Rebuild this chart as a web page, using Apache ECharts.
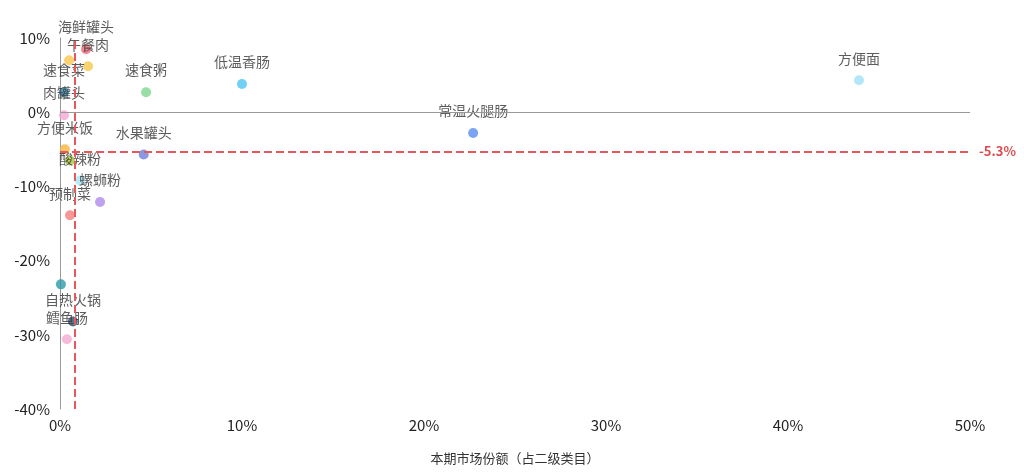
<!DOCTYPE html>
<html>
<head>
<meta charset="utf-8">
<script src="https://cdn.jsdelivr.net/npm/echarts@6/dist/echarts.min.js"></script>
<style>
html,body{margin:0;padding:0;background:#fff;}
#c{width:1024px;height:474px;}
</style>
</head>
<body>
<div id="c"></div>
<script>
const categories = ['海鲜罐头','午餐肉','其他A','速食菜','速食粥','低温香肠','方便面','肉罐头','常温火腿肠','方便米饭','水果罐头','其他B','酸辣粉','螺蛳粉','预制菜','其他C','自热火锅','鳕鱼肠'];
const marketShare = [1.43,1.54,0.5,0.22,4.73,10.0,43.9,0.22,22.7,0.27,4.6,0.55,1.1,2.2,0.55,0.05,0.71,0.38];
const growth = [8.5,6.2,7.0,2.7,2.7,3.8,4.3,-0.4,-2.8,-5.0,-5.7,-6.5,-9.2,-12.1,-13.9,-23.2,-28.2,-30.6];
const showLabel = [true,true,false,true,true,true,true,true,true,true,true,false,true,true,true,false,true,true];
const avgShare = 0.8;
const avgGrowth = -5.3;
const xTicks = [0,10,20,30,40,50];
const yTicks = [-40,-30,-20,-10,0,10];

const palette = ['#ee6a78','#f7c84a','#f9c74f','#2f7fa6','#80d68e','#4dc4f0','#a0e1f6','#f5a7cf','#5a8ff0','#f6b53a','#6b80d9','#a7c83f','#a9e6f6','#b08aea','#f47e7c','#2a9aa6','#284d6e','#f5aad0'];

const data = categories.map((n,i)=>({
  name:n,
  value:[marketShare[i],growth[i]],
  itemStyle:{color:palette[i]},
  label:{show:showLabel[i]}
}));

const chart = echarts.init(document.getElementById('c'));
chart.setOption({
  animation:false,
  textStyle:{fontFamily:'"Noto Sans CJK SC","Noto Sans",sans-serif'},
  grid:{left:60,right:54,top:38,bottom:65,containLabel:false},
  xAxis:{
    type:'value',min:xTicks[0],max:xTicks[xTicks.length-1],interval:10,
    name:'本期市场份额（占二级类目）',nameLocation:'middle',nameGap:43,
    nameTextStyle:{fontSize:13,color:'#333'},
    axisLine:{show:false},axisTick:{show:false},splitLine:{show:false},
    axisLabel:{formatter:'{value}%',fontSize:15,color:'#222',margin:9}
  },
  yAxis:{
    type:'value',min:yTicks[0],max:yTicks[yTicks.length-1],interval:10,
    axisLine:{show:true,onZero:false,lineStyle:{color:'#999'}},
    axisTick:{show:false},splitLine:{show:false},
    axisLabel:{formatter:'{value}%',fontSize:15,color:'#222',margin:10}
  },
  series:[{
    type:'scatter',
    symbolSize:10,
    data:data,
    label:{position:'top',distance:10,formatter:'{b}',fontSize:14,color:'#333'},
    markLine:{
      silent:true,symbol:'none',
      data:[
        {yAxis:0,lineStyle:{color:'#999',type:'solid',width:1},label:{show:false}},
        {xAxis:avgShare,lineStyle:{color:'#e8575a',type:'dashed',width:2},label:{show:false}},
        {yAxis:avgGrowth,lineStyle:{color:'#e8575a',type:'dashed',width:2},
         label:{show:true,position:'end',distance:9,formatter:avgGrowth+'%',color:'#e04a4e',fontSize:13,fontWeight:'bold'}}
      ]
    }
  }]
});
</script>
</body>
</html>
